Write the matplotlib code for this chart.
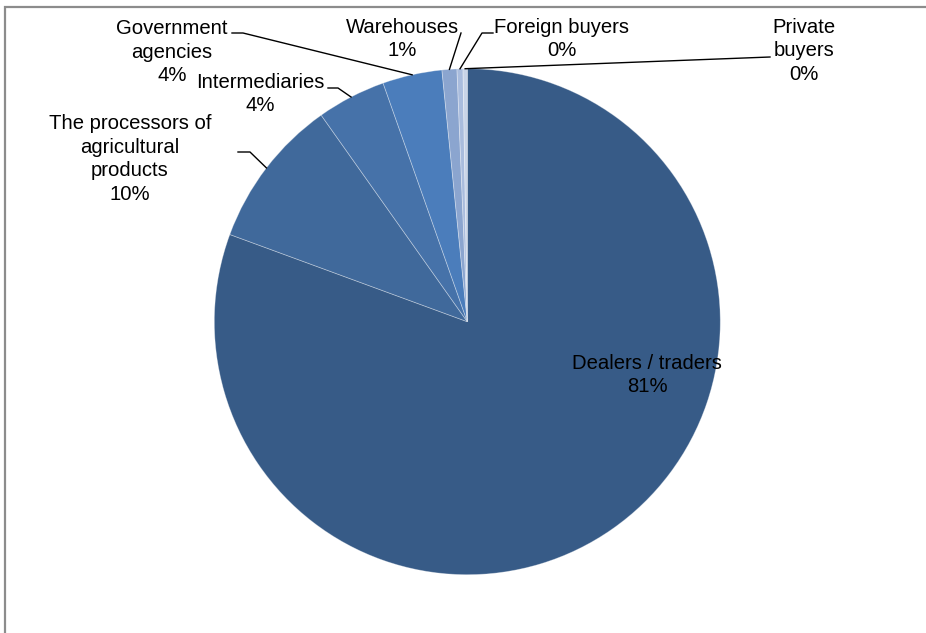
import numpy as np
import matplotlib.pyplot as plt
from matplotlib.patches import Rectangle

plt.rcParams['font.family'] = ['Liberation Sans', 'DejaVu Sans']

# Anteile der Abnehmergruppen (in %)
categories = ['Dealers / traders', 'The processors of\nagricultural\nproducts',
              'Intermediaries', 'Government\nagencies', 'Warehouses',
              'Foreign buyers', 'Private\nbuyers']
shares = [80.6, 9.6, 4.4, 3.8, 0.95, 0.38, 0.27]
colors = ['#375B87', '#40699B', '#4672A9', '#4B7DBB', '#8BA5CF', '#A9BCDD', '#C8D4E8']

W, H = 926, 633
center = (467.3, 321.7)
radius = 253


def px(x, y):
    # Pixelkoordinaten (y nach unten) -> Achsenkoordinaten
    return x, H - y


fig = plt.figure(figsize=(W / 100, H / 100), dpi=100)
ax = fig.add_axes([0, 0, 1, 1])

wedges, _ = ax.pie(shares, colors=colors, startangle=90, counterclock=False,
                   radius=radius, center=px(*center),
                   wedgeprops=dict(edgecolor=(1, 1, 1, 0.35), linewidth=0.6))

# pie() setzt eigene Grenzen -> danach überschreiben
ax.set_xlim(0, W)
ax.set_ylim(0, H)
ax.set_aspect('equal')
ax.axis('off')

# Rahmen (nur oben/links sichtbar)
fig.patches.append(Rectangle((5 / W, -0.1), 1.2, 1.1 - 7 / H, transform=fig.transFigure,
                             fill=False, edgecolor='#8c8c8c', linewidth=1.6))

total = sum(shares)
pct = [f"{v / total * 100:.0f}%" for v in shares]

# Beschriftungspositionen und Knickpunkte der Führungslinien
label_pos = {1: (130, 159), 2: (260, 94), 3: (172, 52), 4: (402, 39), 5: (562, 39), 6: (804, 51)}
leader = {1: [(238, 152), (250, 152)], 2: [(328, 88), (338, 88)], 3: [(232, 33), (243, 33)],
          4: [(461, 33)], 5: [(493, 33), (482, 33)], 6: [(770, 57)]}

fs = 14.6
ls = 1.3
ax.text(*px(647, 375), f"{categories[0]}\n{pct[0]}", ha='center', va='center',
        fontsize=fs, color='black', linespacing=ls)

for i in range(1, len(categories)):
    x, y = label_pos[i]
    ax.text(*px(x, y), f"{categories[i]}\n{pct[i]}", ha='center', va='center',
            fontsize=fs, color='black', linespacing=ls, multialignment='center')
    w = wedges[i]
    mid = np.deg2rad((w.theta1 + w.theta2) / 2)
    cx, cy = px(*center)
    end = (cx + radius * np.cos(mid), cy + radius * np.sin(mid))
    pts = [px(*p) for p in leader[i]] + [end]
    ax.plot([p[0] for p in pts], [p[1] for p in pts], color='black', linewidth=1.0)

fig.savefig('out.png', dpi=100)
